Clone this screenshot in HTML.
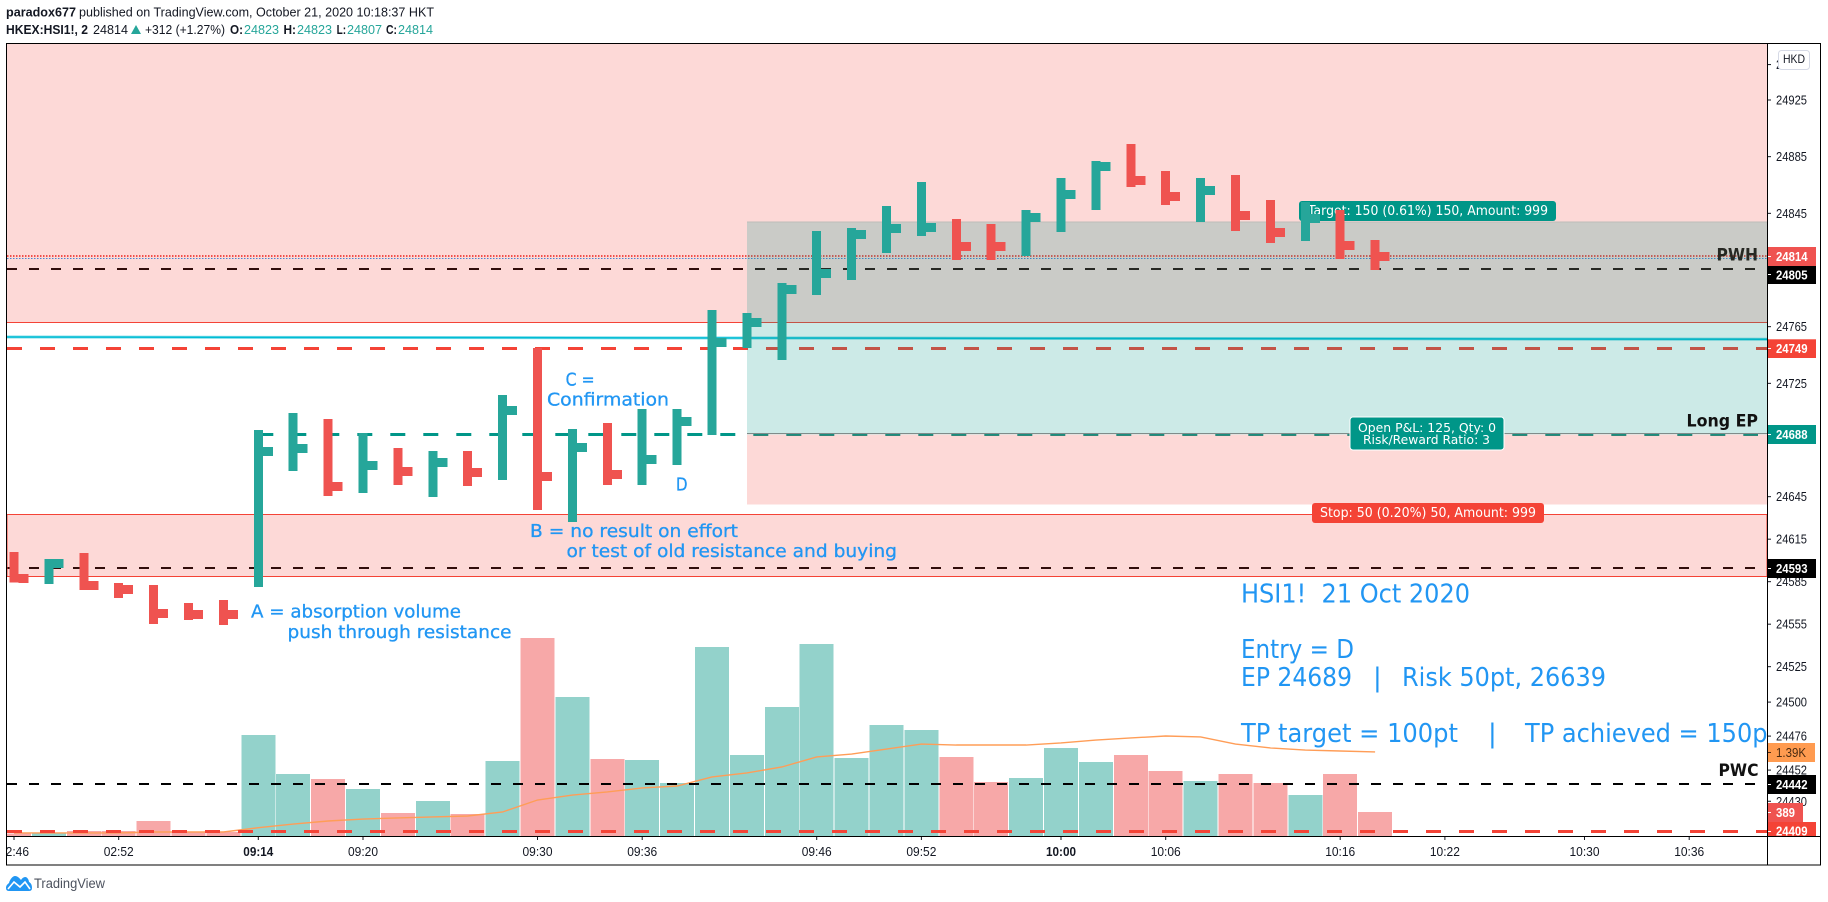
<!DOCTYPE html>
<html lang="en">
<head>
<meta charset="utf-8">
<title>HSI1! 2-minute chart</title>
<style>
html,body{margin:0;padding:0;background:#fff;width:1828px;height:902px;overflow:hidden}
svg{display:block}
text{font-family:"Liberation Sans",sans-serif;white-space:pre}
.note{font-family:"DejaVu Sans",sans-serif;fill:#2196f3;stroke:#2196f3;stroke-width:.3px;font-size:17.4px}
.big{font-family:"DejaVu Sans",sans-serif;fill:#2196f3;font-size:26px}
.ax{font-size:12.5px;fill:#131722}
.bd{font-size:13px;fill:#fff;font-weight:bold}
.lab{font-family:"DejaVu Sans",sans-serif;font-weight:bold;font-size:16.5px;fill:#111}
.tag{font-family:"DejaVu Sans",sans-serif;font-size:13px;fill:#fff}
.tag2{font-family:"DejaVu Sans",sans-serif;font-size:12.5px;fill:#fff}
.hd{font-size:13px;fill:#131722}
.hdb{font-size:13px;fill:#131722;font-weight:bold}
.tl{font-size:13px;fill:#26a69a}
</style>
</head>
<body>
<svg id="chart" xmlns="http://www.w3.org/2000/svg" width="1828" height="902" viewBox="0 0 1828 902">
  <defs>
    <clipPath id="plot-clip"><rect x="6.5" y="44" width="1760.5" height="792"/></clipPath>
    <clipPath id="time-clip"><rect x="6.5" y="836" width="1760.5" height="29"/></clipPath>
  </defs>
  <rect x="0" y="0" width="1828" height="902" fill="#fff"/>

  <g>
    <text class="hdb" x="6" y="16.7" textLength="70" lengthAdjust="spacingAndGlyphs">paradox677</text>
    <text class="hd" x="79" y="16.7" textLength="355" lengthAdjust="spacingAndGlyphs">published on TradingView.com, October 21, 2020 10:18:37 HKT</text>
    <text class="hdb" x="6" y="34" textLength="82" lengthAdjust="spacingAndGlyphs">HKEX:HSI1!, 2</text>
    <text class="hd" x="93" y="34" textLength="35" lengthAdjust="spacingAndGlyphs">24814</text>
    <polygon points="136,25 141,34 131,34" fill="#26a69a"/>
    <text class="hd" x="145" y="34" textLength="80" lengthAdjust="spacingAndGlyphs">+312 (+1.27%)</text>
    <text class="hdb" x="230" y="34" textLength="13" lengthAdjust="spacingAndGlyphs">O:</text>
    <text class="tl" x="244" y="34" textLength="35" lengthAdjust="spacingAndGlyphs">24823</text>
    <text class="hdb" x="283.5" y="34" textLength="12.5" lengthAdjust="spacingAndGlyphs">H:</text>
    <text class="tl" x="297" y="34" textLength="35" lengthAdjust="spacingAndGlyphs">24823</text>
    <text class="hdb" x="336.6" y="34" textLength="9.5" lengthAdjust="spacingAndGlyphs">L:</text>
    <text class="tl" x="347" y="34" textLength="35" lengthAdjust="spacingAndGlyphs">24807</text>
    <text class="hdb" x="386" y="34" textLength="11" lengthAdjust="spacingAndGlyphs">C:</text>
    <text class="tl" x="398" y="34" textLength="35" lengthAdjust="spacingAndGlyphs">24814</text>
  </g>

  <g id="volume-layer" clip-path="url(#plot-clip)" shape-rendering="crispEdges"></g>
  <g id="ma-layer" clip-path="url(#plot-clip)"></g>
  <g id="line-layer" clip-path="url(#plot-clip)"></g>
  <text class="lab" x="1716.5" y="260.7" textLength="41.5" lengthAdjust="spacingAndGlyphs" style="fill:#000">PWH</text>
  <g id="zone-layer" clip-path="url(#plot-clip)" shape-rendering="crispEdges"></g>

  <g>
    <rect x="1299" y="201" width="257" height="20" rx="3" fill="#009688"/>
    <text class="tag" x="1308" y="215" textLength="240" lengthAdjust="spacingAndGlyphs">Target: 150 (0.61%) 150, Amount: 999</text>
    <rect x="1350" y="417" width="154" height="33" rx="3" fill="#009688" stroke="#fff" stroke-width="1"/>
    <text class="tag2" x="1358" y="432" textLength="138" lengthAdjust="spacingAndGlyphs">Open P&amp;L: 125, Qty: 0</text>
    <text class="tag2" x="1363" y="444" textLength="127" lengthAdjust="spacingAndGlyphs">Risk/Reward Ratio: 3</text>
    <rect x="1312" y="503" width="232" height="20" rx="3" fill="#f44336"/>
    <text class="tag" x="1320" y="517" textLength="216" lengthAdjust="spacingAndGlyphs">Stop: 50 (0.20%) 50, Amount: 999</text>
  </g>

  <g id="bar-layer" clip-path="url(#plot-clip)" shape-rendering="crispEdges"></g>

  <g clip-path="url(#plot-clip)">
    <text class="note" x="565.6" y="385.5" textLength="29" lengthAdjust="spacingAndGlyphs">C =</text>
    <text class="note" x="547" y="405.7" textLength="122" lengthAdjust="spacingAndGlyphs">Confirmation</text>
    <text class="note" x="676" y="490.7" textLength="11.5" lengthAdjust="spacingAndGlyphs">D</text>
    <text class="note" x="530" y="537" textLength="208" lengthAdjust="spacingAndGlyphs">B = no result on effort</text>
    <text class="note" x="566.5" y="557" textLength="330.5" lengthAdjust="spacingAndGlyphs">or test of old resistance and buying</text>
    <text class="note" x="251" y="617.7" textLength="210" lengthAdjust="spacingAndGlyphs">A = absorption volume</text>
    <text class="note" x="287.5" y="638" textLength="224" lengthAdjust="spacingAndGlyphs">push through resistance</text>
    <text class="big" x="1241" y="602.7" textLength="229" lengthAdjust="spacingAndGlyphs">HSI1!  21 Oct 2020</text>
    <text class="big" x="1241" y="658" textLength="113" lengthAdjust="spacingAndGlyphs">Entry = D</text>
    <text class="big" x="1241" y="686" textLength="111" lengthAdjust="spacingAndGlyphs">EP 24689</text>
    <text class="big" x="1373" y="686">|</text>
    <text class="big" x="1402" y="686" textLength="204" lengthAdjust="spacingAndGlyphs">Risk 50pt, 26639</text>
    <text class="big" x="1241" y="742" textLength="217" lengthAdjust="spacingAndGlyphs">TP target = 100pt</text>
    <text class="big" x="1488" y="742">|</text>
    <text class="big" x="1525" y="742" textLength="252" lengthAdjust="spacingAndGlyphs">TP achieved = 150pt</text>
    <text class="lab" x="1686.5" y="426.7" textLength="71.5" lengthAdjust="spacingAndGlyphs">Long EP</text>
    <text class="lab" x="1718.5" y="776" textLength="40" lengthAdjust="spacingAndGlyphs">PWC</text>
  </g>

  <g id="price-axis"></g>
  <g id="time-axis"></g>

  <g>
    <rect x="1767" y="247" width="49" height="19" fill="#ef5350"/>
    <text class="bd" x="1776" y="261" textLength="31.5" lengthAdjust="spacingAndGlyphs">24814</text>
    <rect x="1767" y="266" width="49" height="18" fill="#000"/>
    <text class="bd" x="1776" y="279.5" textLength="31.5" lengthAdjust="spacingAndGlyphs">24805</text>
    <rect x="1767" y="339.3" width="49" height="18.7" fill="#f44336"/>
    <text class="bd" x="1776" y="353" textLength="31.5" lengthAdjust="spacingAndGlyphs">24749</text>
    <rect x="1767" y="425" width="49" height="19" fill="#009688"/>
    <text class="bd" x="1776" y="439" textLength="31.5" lengthAdjust="spacingAndGlyphs">24688</text>
    <rect x="1767" y="559" width="49" height="19" fill="#000"/>
    <text class="bd" x="1776" y="573" textLength="31.5" lengthAdjust="spacingAndGlyphs">24593</text>
    <rect x="1767" y="743" width="48" height="19" fill="#ff9b50"/>
    <text x="1776" y="757" textLength="30" lengthAdjust="spacingAndGlyphs" style="font-size:12.5px;fill:#4a2a10">1.39K</text>
    <rect x="1767" y="775" width="49" height="19" fill="#000"/>
    <text class="bd" x="1776" y="789" textLength="31.5" lengthAdjust="spacingAndGlyphs">24442</text>
    <rect x="1767" y="803" width="36" height="19" fill="#ef5350"/>
    <text class="bd" x="1776" y="817" textLength="19" lengthAdjust="spacingAndGlyphs">389</text>
    <rect x="1767" y="822" width="49" height="14" fill="#f44336"/>
    <text class="bd" x="1776" y="835.5" textLength="31.5" lengthAdjust="spacingAndGlyphs">24409</text>
    <g stroke="#fff" stroke-width="1" shape-rendering="crispEdges">
      <line x1="1768" x2="1771" y1="256.5" y2="256.5"/>
      <line x1="1768" x2="1771" y1="274.5" y2="274.5"/>
      <line x1="1768" x2="1771" y1="348.5" y2="348.5"/>
      <line x1="1768" x2="1771" y1="434.5" y2="434.5"/>
      <line x1="1768" x2="1771" y1="568.5" y2="568.5"/>
      <line x1="1768" x2="1771" y1="752.5" y2="752.5" stroke="#4a2a10"/>
      <line x1="1768" x2="1771" y1="784.5" y2="784.5"/>
      <line x1="1768" x2="1771" y1="812.5" y2="812.5"/>
      <line x1="1768" x2="1771" y1="831.5" y2="831.5"/>
    </g>
  </g>

  <g>
    <rect x="1778.5" y="50.5" width="31" height="19" rx="3" fill="#fff" stroke="#d6dae6"/>
    <text x="1783" y="63" textLength="22" lengthAdjust="spacingAndGlyphs" style="font-size:12px;fill:#131722">HKD</text>
  </g>

  <g fill="none" stroke="#000" stroke-width="1">
    <rect x="6.5" y="43.5" width="1814" height="821.5"/>
    <line x1="1767.5" y1="44" x2="1767.5" y2="865"/>
    <line x1="6.5" y1="836.5" x2="1821" y2="836.5"/>
  </g>

  <g>
    <path d="M6,888 C6,885 8,884 9,883 C10,879 13,876 15,876 C18,876 20,879 21,880 C22,878 24,877 25,877 C28,877 29,881 29,882 C31,883 32,885 32,888 C32,890 31,891 29,891 L9,891 C7,891 6,890 6,888 Z" fill="#2196f3"/>
    <path d="M8,889 L14,882 L20,887 L25,882 L30,889" fill="none" stroke="#fff" stroke-width="1.6"/>
    <text x="34" y="888" textLength="71" lengthAdjust="spacingAndGlyphs" style="font-size:13.5px;fill:#4c525e">TradingView</text>
  </g>
</svg>

<script>
// ---- chart data ----
const barDirections = ['d','u','d','d','d','d','d','u','u','d','u','d','u','d','u','d','u','d','u','u','u','u','u','u','u','u','u','d','d','u','u','u','d','d','u','d','d','u','d','d'];
const barHighs = [24605.9,24601.0,24605.2,24584.1,24582.6,24569.9,24572.1,24692.1,24704.1,24699.8,24689.9,24679.4,24677.2,24677.2,24716.8,24749.9,24692.8,24697.0,24706.9,24706.9,24776.8,24774.6,24795.8,24832.5,24834.6,24850.2,24867.1,24841.0,24837.5,24847.4,24869.9,24881.9,24893.9,24874.9,24869.9,24872.1,24854.4,24853.0,24847.4,24826.2];
const barLows = [24584.3,24583.4,24579.1,24573.5,24555.1,24557.9,24554.4,24581.2,24663.1,24645.5,24647.6,24653.2,24644.8,24652.5,24656.8,24635.6,24627.1,24653.2,24653.2,24667.4,24688.5,24749.9,24741.5,24787.4,24797.9,24817.0,24829.0,24812.1,24812.1,24814.9,24831.8,24847.4,24863.6,24850.9,24838.9,24832.5,24824.1,24825.5,24812.8,24805.0];
const barCloses = [24587.4,24598.0,24582.4,24579.6,24562.7,24562.0,24562.0,24676.9,24679.0,24652.2,24667.0,24662.8,24669.1,24662.1,24705.8,24659.2,24679.7,24660.6,24671.2,24698.1,24753.8,24767.9,24791.2,24802.5,24830.1,24834.3,24835.0,24821.6,24821.6,24842.1,24858.3,24878.1,24868.2,24856.9,24861.1,24843.5,24831.5,24841.4,24822.3,24814.5];
const volumes = [44,44,81,81,243,65,65,1636,1004,923,761,373,567,356,1215,3208,2252,1247,1231,859,3062,1312,2090,3110,1264,1798,1717,1280,875,940,1426,1199,1312,1053,891,1004,859,664,1004,389];
const volumeMA = [49,49,49,49,65,65,65,134,194,243,275,292,308,324,389,583,664,713,778,810,956,1021,1118,1280,1328,1409,1490,1474,1474,1474,1507,1555,1588,1620,1604,1490,1426,1393,1377,1361];
const priceTicks = [24950,24925,24885,24845,24765,24725,24645,24615,24585,24555,24525,24500,24476,24452,24430];
const timeTickBars = [0,3,7,10,15,18,23,26,30,33,38,41,45,48];
const timeTickLabels = ['02:46','02:52','09:14','09:20','09:30','09:36','09:46','09:52','10:00','10:06','10:16','10:22','10:30','10:36'];
const boldTimeLabels = ['09:14','10:00'];
const blackLevels = [24805.71,24594.65,24442.18];
const redLevels = [24749.59,24408.65];
const entryLevels = [24688.89];
const lastPriceLevels = [24814.88];
const bidLevels = [24813.12];
const channelLevels = [24757.7,24756.1];
const resistanceZoneA = [24767.94,25000];
const resistanceZoneB = [24588.65,24632.42];
const positionLevels = [24839,24689,24639.5];
const positionStartBar = [21];

// ---- axis functions ----
const NS = 'http://www.w3.org/2000/svg';
function x(i){ return 14 + i * 34.9; }
function y(p){ return 100 + (24925 - p) * 1.4167; }
function volH(v){ return v / 16.2; }
const BASE = 836, RIGHT = 1767, LEFT = 7;

function mk(tag, parent, attrs){
  const el = document.createElementNS(NS, tag);
  for (const k in attrs) el.setAttribute(k, attrs[k]);
  parent.appendChild(el);
  return el;
}

// ---- volume ----
const volLayer = document.getElementById('volume-layer');
volumes.forEach(function(v, i){
  const el = mk('rect', volLayer, {x: x(i) - 17, y: BASE - volH(v), width: 34, height: volH(v), fill: barDirections[i] === 'u' ? '#93d2cb' : '#f7a8a8'});
  
  
});

// ---- volume moving average ----
const maLayer = document.getElementById('ma-layer');
const maLine = mk('polyline', maLayer, {fill: 'none', stroke: '#ff9d57', 'stroke-width': 1.4,
  points: volumeMA.map(function(v, i){ return x(i) + ',' + (BASE - volH(v)); }).join(' ')});



// ---- price levels ----
const lineLayer = document.getElementById('line-layer');
blackLevels.forEach(function(p){
  const el = mk('line', lineLayer, {x1: LEFT, x2: 1755, y1: y(p), y2: y(p), stroke: '#000', 'stroke-width': 2, 'stroke-dasharray': '10 12'});
  
  
});
redLevels.forEach(function(p){
  const el = mk('line', lineLayer, {x1: LEFT, x2: RIGHT, y1: y(p), y2: y(p), stroke: '#f44336', 'stroke-width': 3, 'stroke-dasharray': '15 18'});
  
  
});
entryLevels.forEach(function(p){
  const el = mk('line', lineLayer, {x1: x(7), x2: 1758, y1: y(p), y2: y(p), stroke: '#009688', 'stroke-width': 3, 'stroke-dasharray': '15 18'});
  
  
});
lastPriceLevels.forEach(function(p){
  const el = mk('line', lineLayer, {x1: LEFT, x2: RIGHT, y1: y(p), y2: y(p), stroke: '#ef5350', 'stroke-width': 2, 'stroke-dasharray': '1.5 1.5'});
  
  
});
bidLevels.forEach(function(p){
  const el = mk('line', lineLayer, {x1: LEFT, x2: RIGHT, y1: y(p), y2: y(p), stroke: '#2196f3', 'stroke-width': 1, 'stroke-dasharray': '1.5 1.5'});
  
  
});
const channelGlow = mk('line', lineLayer, {x1: LEFT, x2: RIGHT, y1: y(channelLevels[0]), y2: y(channelLevels[1]), stroke: '#80deea', 'stroke-width': 3});


const channel = mk('line', lineLayer, {x1: LEFT, x2: RIGHT, y1: y(channelLevels[0]), y2: y(channelLevels[1]), stroke: '#00bcd4', 'stroke-width': 1.5});



// ---- zones and position tool ----
const zoneLayer = document.getElementById('zone-layer');
const zoneA = mk('rect', zoneLayer, {x: LEFT, width: RIGHT - LEFT, y: y(resistanceZoneA[1]), height: y(resistanceZoneA[0]) - y(resistanceZoneA[1]), fill: 'rgba(244,67,54,0.2)'});


const zoneAEdge = mk('line', zoneLayer, {x1: LEFT, x2: RIGHT, y1: y(resistanceZoneA[0]), y2: y(resistanceZoneA[0]), stroke: '#f44336', 'stroke-width': 1});


const zoneB = mk('rect', zoneLayer, {x: LEFT, width: RIGHT - LEFT, y: y(resistanceZoneB[1]), height: y(resistanceZoneB[0]) - y(resistanceZoneB[1]), fill: 'rgba(244,67,54,0.2)', stroke: '#f44336', 'stroke-width': 1});


const posX = x(positionStartBar[0]);
const posTarget = mk('rect', zoneLayer, {x: posX, width: RIGHT - posX, y: y(positionLevels[0]), height: y(positionLevels[1]) - y(positionLevels[0]), fill: 'rgba(0,150,136,0.2)'});


const posStop = mk('rect', zoneLayer, {x: posX, width: RIGHT - posX, y: y(positionLevels[1]), height: y(positionLevels[2]) - y(positionLevels[1]), fill: 'rgba(244,67,54,0.2)'});


const posTop = mk('line', zoneLayer, {x1: posX, x2: RIGHT, y1: y(positionLevels[0]), y2: y(positionLevels[0]), stroke: '#bdbdb8', 'stroke-width': 1});


const posMid = mk('line', zoneLayer, {x1: posX, x2: RIGHT, y1: y(positionLevels[1]) - 1, y2: y(positionLevels[1]) - 1, stroke: '#7f8c8a', 'stroke-width': 1});



// ---- HLC bars ----
const barLayer = document.getElementById('bar-layer');
barHighs.forEach(function(h, i){
  const col = barDirections[i] === 'u' ? '#26a69a' : '#ef5350';
  const stem = mk('rect', barLayer, {x: x(i) - 4.5, y: y(h), width: 9, height: y(barLows[i]) - y(h), fill: col});
  
  
  const tick = mk('rect', barLayer, {x: x(i) + 4.5, y: y(barCloses[i]) - 4.5, width: 10, height: 9, fill: col});
  
  
});

// ---- price axis ----
const priceAxis = document.getElementById('price-axis');
priceTicks.forEach(function(p){
  const t = mk('line', priceAxis, {x1: RIGHT, x2: RIGHT + 4, y1: y(p), y2: y(p), stroke: '#131722', 'stroke-width': 1});
  
  
  const l = mk('text', priceAxis, {x: 1776, y: y(p) + 4.5, textLength: 31, lengthAdjust: 'spacingAndGlyphs', 'class': 'ax'});
  l.textContent = String(p);
  
  
});

// ---- time axis ----
const timeAxis = document.getElementById('time-axis');
timeAxis.setAttribute('clip-path', 'url(#time-clip)');
timeTickBars.forEach(function(b, i){
  const t = mk('line', timeAxis, {x1: x(b), x2: x(b), y1: BASE, y2: BASE + 4, stroke: '#131722', 'stroke-width': 1});
  
  
  const label = timeTickLabels[i];
  const l = mk('text', timeAxis, {x: x(b) - 15, y: 856, textLength: 30, lengthAdjust: 'spacingAndGlyphs', 'class': 'ax'});
  if (boldTimeLabels.indexOf(label) >= 0) l.setAttribute('font-weight', 'bold');
  l.textContent = label;
  
  
});
</script>
</body>
</html>
